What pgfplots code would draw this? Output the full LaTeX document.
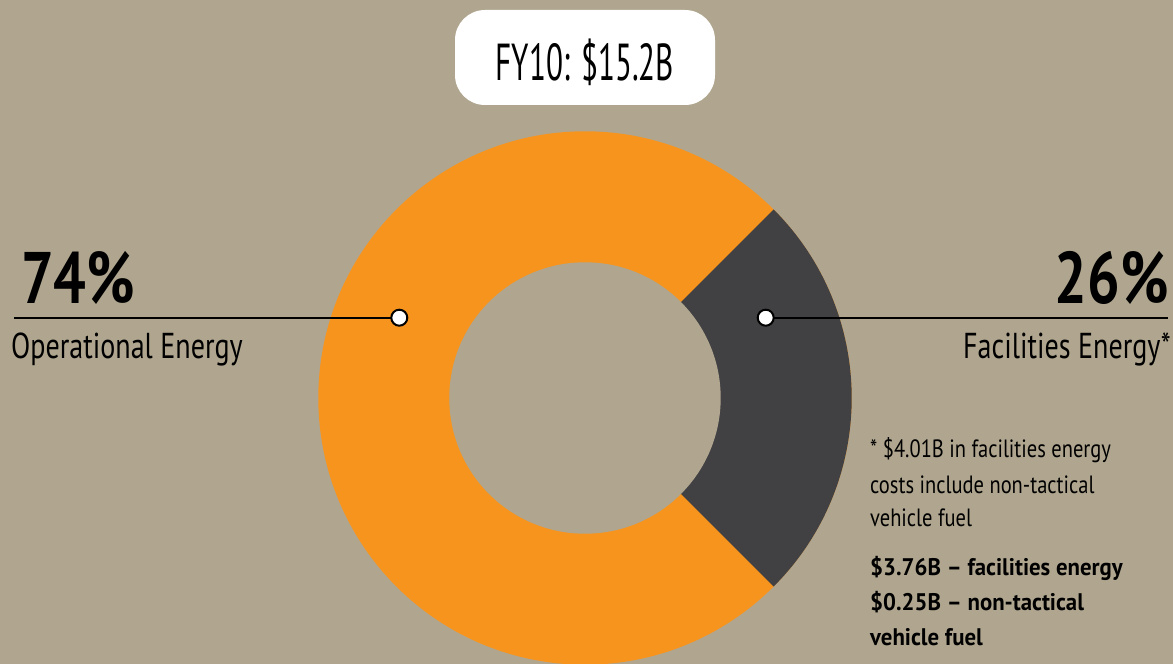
\documentclass[border=0pt]{standalone}
\usepackage{pgfplots}
\pgfplotsset{compat=1.18}
\usepackage{fontspec}
\setmainfont{PT Sans}[FakeStretch=0.82]
\newfontfamily\ftitle{PT Sans}[FakeStretch=0.6]
\newfontfamily\flabel{PT Sans}[FakeStretch=0.78]
\newfontfamily\fpct{PT Sans}[FakeStretch=0.79]
\newfontfamily\fnote{PT Sans}[FakeStretch=0.82]
\newfontfamily\fnoteb{PT Sans}[FakeStretch=0.95]
\definecolor{bg}{RGB}{176,166,143}
\definecolor{orng}{RGB}{247,148,30}
\definecolor{dgray}{RGB}{65,64,66}
\newcommand{\fs}[1]{\fontsize{#1}{#1}\selectfont}
\begin{document}
\begin{tikzpicture}
\begin{axis}[
  x=1pt, y=1pt,
  xmin=0, xmax=1173, ymin=0, ymax=664,
  scale only axis, hide axis,
  clip mode=global,
]
% background
\fill[bg] (axis cs:0,0) rectangle (axis cs:1173,664);
% donut: Operational 74% (orange), Facilities 26% (dark), boundaries read at +-45 deg
\fill[orng] (axis cs:585,266) circle[radius=266.7pt];
\fill[dgray] (axis cs:585,266) -- ++(-45:266.7pt) arc[start angle=-45, end angle=45, radius=266.7pt] -- cycle;
\fill[bg] (axis cs:585,266) circle[radius=135.7pt];
% leader lines
\addplot[black, line width=2pt] coordinates {(14,346.3) (399.3,346.3)};
\addplot[black, line width=2pt] coordinates {(765.7,346.3) (1168,346.3)};
\addplot[only marks, mark=*, mark size=8pt, mark options={fill=white, draw=black, line width=2pt}]
  coordinates {(399.3,346.3) (765.7,346.3)};
% title box
\fill[white, rounded corners=30pt] (axis cs:455,559) rectangle (axis cs:715,654);
\node[anchor=base, inner sep=0pt] at (axis cs:585,583) {\ftitle\fs{52}FY10: \$15.2B};
% labels
\node[anchor=base west, inner sep=0pt] at (axis cs:21,360) {\fpct\fs{73}\bfseries 74\%};
\node[anchor=base west, inner sep=0pt] at (axis cs:11,305) {\flabel\fs{36}Operational Energy};
\node[anchor=base east, inner sep=0pt] at (axis cs:1169,360) {\fpct\fs{73}\bfseries 26\%};
\node[anchor=base east, inner sep=0pt] at (axis cs:1171,305) {\flabel\fs{36}Facilities Energy*};
% footnote
\node[anchor=base west, inner sep=0pt] at (axis cs:870,206) {\fnote\fs{25}* \$4.01B in facilities energy};
\node[anchor=base west, inner sep=0pt] at (axis cs:870,170.7) {\fnote\fs{25}costs include non-tactical};
\node[anchor=base west, inner sep=0pt] at (axis cs:870,137.3) {\fnote\fs{25}vehicle fuel};
\node[anchor=base west, inner sep=0pt] at (axis cs:870,88.3) {\fnoteb\fs{24}\bfseries \$3.76B – facilities energy};
\node[anchor=base west, inner sep=0pt] at (axis cs:870,53.3) {\fnoteb\fs{24}\bfseries \$0.25B – non-tactical};
\node[anchor=base west, inner sep=0pt] at (axis cs:870,18.3) {\fnoteb\fs{24}\bfseries vehicle fuel};
\end{axis}
\end{tikzpicture}
\end{document}
